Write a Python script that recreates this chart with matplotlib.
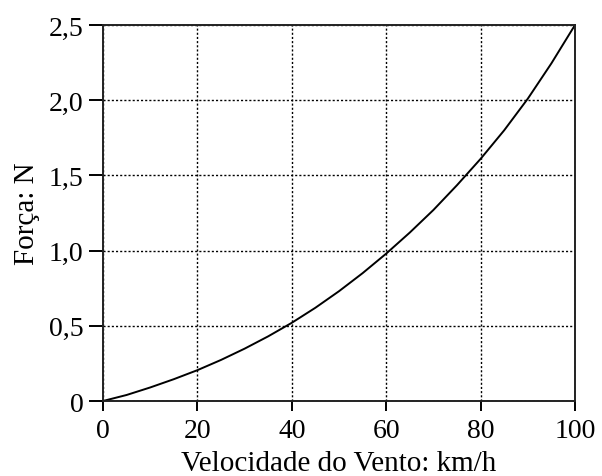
import matplotlib
matplotlib.use("Agg")
import matplotlib.pyplot as plt

# values
velocidade = [0, 5, 10, 15, 20, 25, 30, 35, 40, 45, 50,
              55, 60, 65, 70, 75, 80, 85, 90, 95, 100]
forca = [0, 0.04, 0.09, 0.145, 0.205, 0.273, 0.348, 0.43, 0.52, 0.62, 0.73,
         0.85, 0.98, 1.12, 1.27, 1.435, 1.61, 1.80, 2.01, 2.245, 2.5]

x_ticks = [0, 20, 40, 60, 80, 100]
y_ticks = [0, 0.5, 1.0, 1.5, 2.0, 2.5]
y_labels = ["0", "0,5", "1,0", "1,5", "2,0", "2,5"]

plt.rcParams["font.family"] = ["Liberation Serif", "DejaVu Serif"]

fig = plt.figure(figsize=(6.02, 4.77), dpi=100)
ax = fig.add_axes([103 / 602, 1 - 402 / 477, 472 / 602, 376 / 477])

ax.plot(velocidade, forca, color="black", linewidth=1.4)

ax.set_xlim(0, 100)
ax.set_ylim(0, 2.5)
ax.set_xticks(x_ticks)
ax.set_yticks(y_ticks)
ax.set_yticklabels(y_labels)

ax.grid(True, color="black", linestyle=(0, (1.5, 1.5)), linewidth=1.0)
for s in ax.spines.values():
    s.set_linewidth(1.4)
    s.set_color("#222222")

ax.tick_params(axis="x", direction="out", length=7, width=1.4,
               labelsize=20, pad=5)
ax.tick_params(axis="y", direction="out", length=10, width=1.4,
               labelsize=20, pad=4)

ax.set_xlabel("Velocidade do Vento: km/h", fontsize=21, labelpad=5)
ax.set_ylabel("Força: N", fontsize=21, labelpad=6)

fig.savefig("out.png", dpi=100)
